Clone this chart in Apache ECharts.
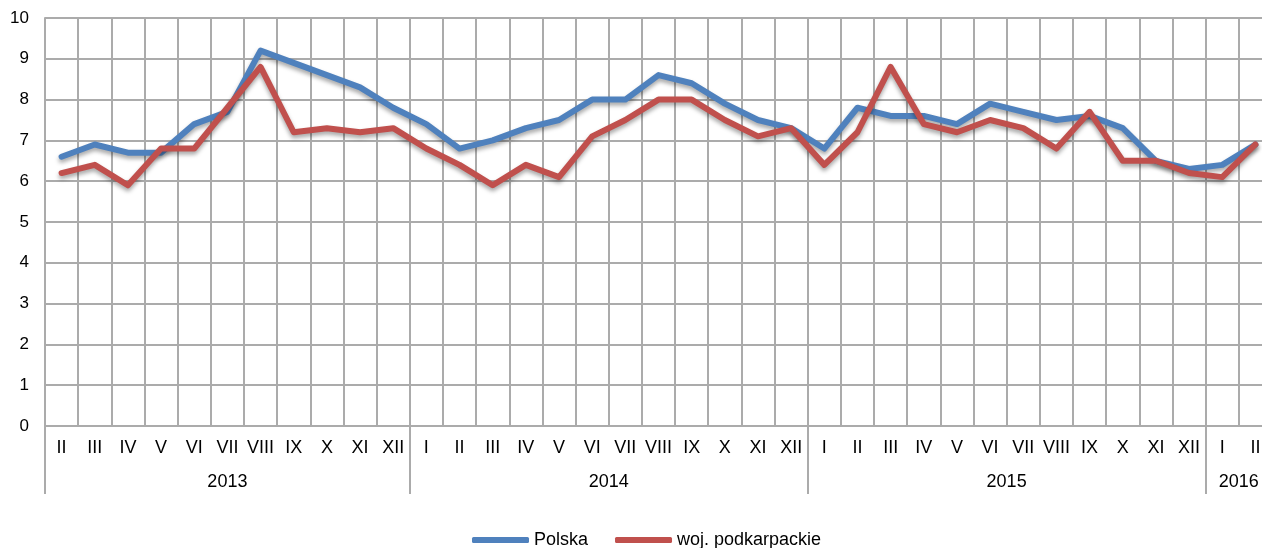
<!DOCTYPE html>
<html>
<head>
<meta charset="utf-8">
<script src="https://cdn.jsdelivr.net/npm/echarts@6/dist/echarts.min.js"></script>
<style>
  html, body { margin: 0; padding: 0; background: #fff; }
  #chart { width: 1262px; height: 548px; }
</style>
</head>
<body>
<div id="chart"></div>
<script>
// miesiące (od II 2013 do II 2016)
const months = [
  'II', 'III', 'IV', 'V', 'VI', 'VII', 'VIII', 'IX', 'X', 'XI', 'XII',
  'I', 'II', 'III', 'IV', 'V', 'VI', 'VII', 'VIII', 'IX', 'X', 'XI', 'XII',
  'I', 'II', 'III', 'IV', 'V', 'VI', 'VII', 'VIII', 'IX', 'X', 'XI', 'XII',
  'I', 'II'
]
const years = ['2013', '2014', '2015', '2016']
const monthsPerYear = [11, 12, 12, 2]

const polska = [
  6.6, 6.9, 6.7, 6.7, 7.4, 7.7, 9.2, 8.9, 8.6, 8.3, 7.8,
  7.4, 6.8, 7.0, 7.3, 7.5, 8.0, 8.0, 8.6, 8.4, 7.9, 7.5, 7.3,
  6.8, 7.8, 7.6, 7.6, 7.4, 7.9, 7.7, 7.5, 7.6, 7.3, 6.5, 6.3,
  6.4, 6.9
]
const podkarpackie = [
  6.2, 6.4, 5.9, 6.8, 6.8, 7.8, 8.8, 7.2, 7.3, 7.2, 7.3,
  6.8, 6.4, 5.9, 6.4, 6.1, 7.1, 7.5, 8.0, 8.0, 7.5, 7.1, 7.3,
  6.4, 7.2, 8.8, 7.4, 7.2, 7.5, 7.3, 6.8, 7.7, 6.5, 6.5, 6.2,
  6.1, 6.9
]

const yTicks = { min: 0, max: 10, step: 1 }

// kategorie roku dla każdego miesiąca + indeksy granic i środków
const yearCats = []
const yearStarts = []
const yearMids = {}
years.forEach((y, i) => {
  yearStarts.push(yearCats.length)
  const n = monthsPerYear[i]
  const mid = yearCats.length + Math.ceil(n / 2) - 1
  yearMids[mid] = n % 2 === 0 ? 'e' : 'o'
  for (let k = 0; k < n; k++) yearCats.push(y)
})

const font = 'Liberation Sans, Arial, sans-serif'
const gridColor = '#ababab'
const shadow = { shadowColor: 'rgba(0,0,0,0.35)', shadowBlur: 4, shadowOffsetY: 3 }

const chart = echarts.init(document.getElementById('chart'))
chart.setOption({
  animation: false,
  textStyle: { fontFamily: font },
  // wykres wychodzi poza prawą krawędź (jak w oryginale)
  grid: { left: 45, width: 1227, top: 18, bottom: 122, containLabel: false, outerBoundsMode: 'none' },
  legend: {
    left: 467,
    top: 526,
    icon: 'roundRect',
    itemWidth: 57,
    itemHeight: 6,
    itemGap: 27,
    textStyle: { fontSize: 18, color: '#000', fontFamily: font },
    data: ['Polska', 'woj. podkarpackie']
  },
  xAxis: [
    {
      type: 'category',
      data: months,
      boundaryGap: true,
      axisLine: { show: true, lineStyle: { color: gridColor, width: 2 } },
      axisTick: { show: false },
      axisLabel: { interval: 0, margin: 13, fontSize: 18, color: '#000', fontFamily: font },
      splitLine: { show: true, interval: 0, lineStyle: { color: gridColor, width: 2 } }
    },
    {
      type: 'category',
      data: yearCats,
      position: 'bottom',
      boundaryGap: true,
      axisLine: { show: false },
      axisTick: {
        show: true,
        length: 68,
        interval: (i) => yearStarts.indexOf(i) >= 0,
        lineStyle: { color: gridColor, width: 2 }
      },
      axisLabel: {
        margin: 47,
        color: '#000',
        fontSize: 18,
        fontFamily: font,
        interval: (i) => yearMids[i] !== undefined,
        formatter: (v, i) => '{' + (yearMids[i] || 'o') + '|' + v + '}',
        rich: {
          o: { fontSize: 18, color: '#000', fontFamily: font },
          e: { fontSize: 18, color: '#000', fontFamily: font, padding: [0, 0, 0, 33] }
        }
      },
      splitLine: { show: false }
    }
  ],
  yAxis: {
    type: 'value',
    min: yTicks.min,
    max: yTicks.max,
    interval: yTicks.step,
    axisLine: { show: true, lineStyle: { color: gridColor, width: 2 } },
    axisTick: { show: false },
    axisLabel: { margin: 16, fontSize: 17, color: '#000', fontFamily: font },
    splitLine: { show: true, lineStyle: { color: gridColor, width: 2 } }
  },
  series: [
    {
      name: 'Polska',
      type: 'line',
      data: polska,
      symbol: 'none',
      itemStyle: { color: '#4f81bd' },
      lineStyle: Object.assign({ color: '#4f81bd', width: 6, cap: 'round', join: 'round' }, shadow)
    },
    {
      name: 'woj. podkarpackie',
      type: 'line',
      data: podkarpackie,
      symbol: 'none',
      itemStyle: { color: '#c0504d' },
      lineStyle: Object.assign({ color: '#c0504d', width: 6, cap: 'round', join: 'round' }, shadow)
    }
  ]
})
</script>
</body>
</html>
